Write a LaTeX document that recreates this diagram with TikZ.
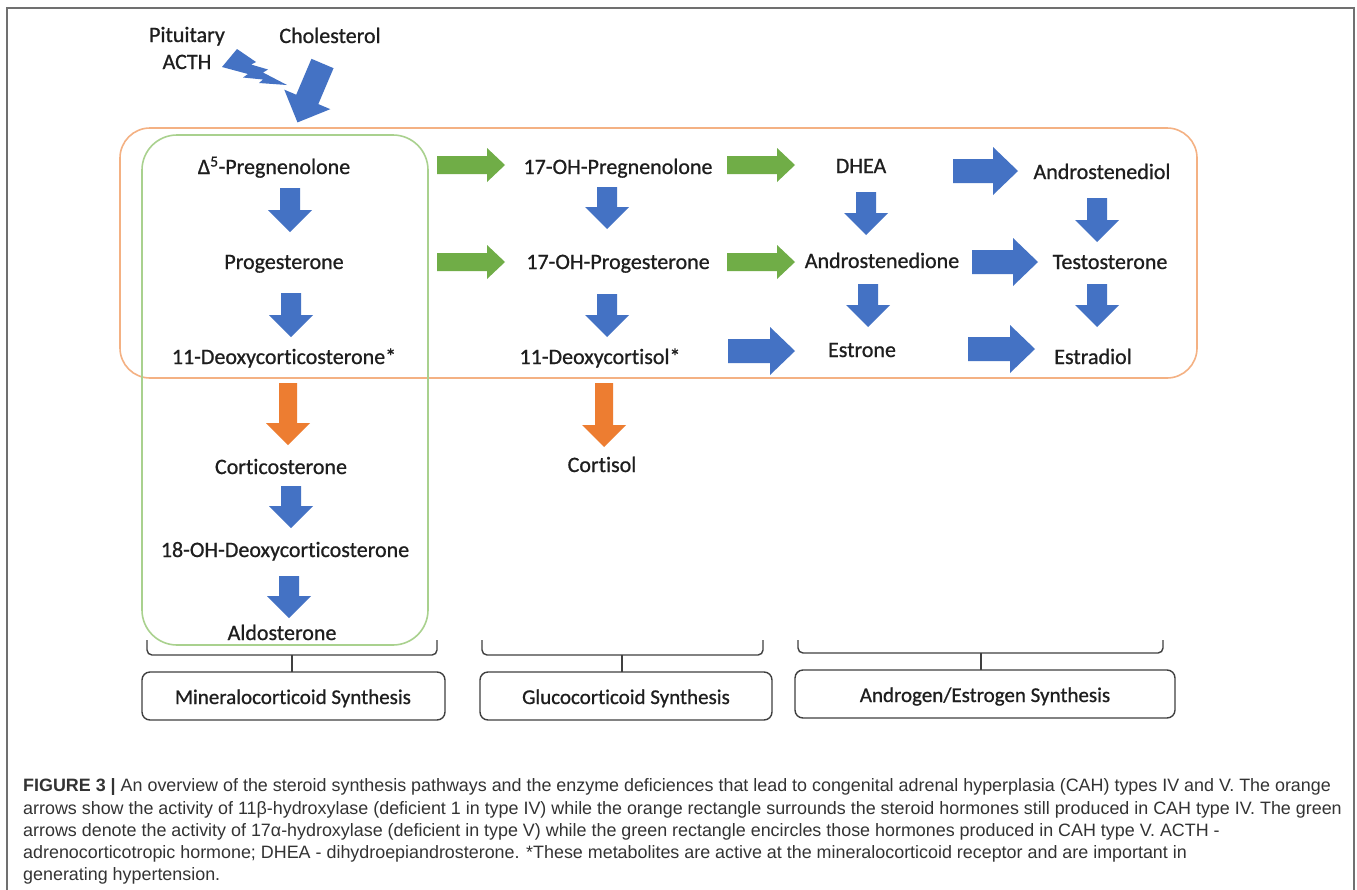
\documentclass[tikz,border=0pt]{standalone}
\usepackage{fontspec}
\setmainfont{Carlito}[Ligatures=NoCommon]
\newfontfamily\heavy{Carlito}[Ligatures=NoCommon, FakeBold=0.8]
\newfontfamily\capfont{Liberation Sans}
\definecolor{oblue}{HTML}{4472C4}
\definecolor{ogreen}{HTML}{70AD47}
\definecolor{oorange}{HTML}{ED7D31}
\definecolor{boxorange}{HTML}{F4B183}
\definecolor{boxgreen}{HTML}{A9D18E}
\definecolor{txt}{HTML}{1E1E1E}
\definecolor{captxt}{HTML}{333333}
\definecolor{framecol}{HTML}{707070}
\definecolor{brkcol}{HTML}{404040}
% block arrow: color, x, y, angle, length, body half, head half, head length
\newcommand{\BA}[8]{\fill[#1, shift={(#2,#3)}, rotate=#4] (0,-#6) -- ({#5-#8},-#6) -- ({#5-#8},-#7) -- (#5,0) -- ({#5-#8},#7) -- ({#5-#8},#6) -- (0,#6) -- cycle;}
\begin{document}
\begin{tikzpicture}[x=1pt,y=-1pt,
  lbl/.style={anchor=base, inner sep=0pt, text=txt, font=\heavy\fontsize{22}{27}\selectfont},
  boxlbl/.style={anchor=base, inner sep=0pt, text=txt, font=\heavy\fontsize{21}{25}\selectfont},
  capline/.style={anchor=base west, inner sep=0pt, text=captxt, font=\capfont\fontsize{17.9}{22}\selectfont},
  brk/.style={draw=brkcol, line width=1.4pt, rounded corners=5pt},
  synbox/.style={draw=brkcol, line width=1.4pt, rounded corners=8pt}]
\useasboundingbox (0,0) rectangle (1357,889);
\fill[white] (0,0) rectangle (1357,889);
% outer frame
\draw[framecol, line width=1.5pt] (7,900) -- (7,8) -- (1354,8) -- (1354,900);
% group rectangles
\draw[boxorange, line width=1.6pt, rounded corners=30pt] (120,128) rectangle (1197,378);
\draw[boxgreen, line width=1.6pt, rounded corners=35pt] (142,135) rectangle (428,645);
% top labels
\node[lbl, align=center] (pit) at (187,69) {Pituitary\\ACTH};
\node[lbl] (chol) at (330,43) {Cholesterol};
% lightning bolt
\fill[oblue] (237,49) -- (256,62) -- (251,64.5) -- (268,69.5) -- (263,72.5) -- (287,85) -- (259,83) -- (263,79.5) -- (243,77.5) -- (248,74) -- (222,67) -- cycle;
% cholesterol arrow
\BA{oblue}{322.5}{63.5}{-113}{64}{12}{25}{25}
% column 1
\node[lbl] (preg) at (274,174) {Δ\textsuperscript{5}-Pregnenolone};
\node[lbl] (prog) at (284,269) {Progesterone};
\node[lbl] (doc) at (284,364) {11-Deoxycorticosterone*};
\node[lbl] (cortico) at (281,474) {Corticosterone};
\node[lbl] (ohdoc) at (285,557) {18-OH-Deoxycorticosterone};
\node[lbl] (aldo) at (282,640) {Aldosterone};
% column 2
\node[lbl] (ohpreg) at (618,174) {17-OH-Pregnenolone};
\node[lbl] (ohprog) at (618,269) {17-OH-Progesterone};
\node[lbl] (dcol) at (600,364) {11-Deoxycortisol*};
\node[lbl] (cortisol) at (602,472) {Cortisol};
% column 3
\node[lbl] (dhea) at (861,173) {DHEA};
\node[lbl] (andione) at (882,268) {Androstenedione};
\node[lbl] (estrone) at (862,357) {Estrone};
% column 4
\node[lbl] (andiol) at (1102,179) {Androstenediol};
\node[lbl] (testo) at (1110,269) {Testosterone};
\node[lbl] (estradiol) at (1093,364) {Estradiol};
% green horizontal arrows
\BA{ogreen}{437}{165}{0}{68}{9}{17}{18}
\BA{ogreen}{437}{262}{0}{68}{9}{17}{18}
\BA{ogreen}{727}{165}{0}{68}{9}{17}{18}
\BA{ogreen}{727}{262}{0}{68}{9}{17}{18}
% blue horizontal arrows
\BA{oblue}{953}{171}{0}{65}{12}{24}{25}
\BA{oblue}{972}{262}{0}{66}{12}{24}{25}
\BA{oblue}{728}{351}{0}{67}{12}{24}{25}
\BA{oblue}{968}{349}{0}{67}{12}{24}{25}
% blue vertical arrows
\BA{oblue}{290}{188}{-90}{44}{10}{22}{22}
\BA{oblue}{291}{293}{-90}{44}{10}{22}{22}
\BA{oblue}{291}{486}{-90}{42}{10}{22}{22}
\BA{oblue}{289}{576}{-90}{42}{10}{22}{22}
\BA{oblue}{607}{187}{-90}{42}{10}{22}{22}
\BA{oblue}{607}{294}{-90}{43}{10}{22}{22}
\BA{oblue}{866}{192}{-90}{43}{10}{22}{22}
\BA{oblue}{868}{284}{-90}{43}{10}{22}{22}
\BA{oblue}{1097}{198}{-90}{44}{10}{22}{22}
\BA{oblue}{1097}{284}{-90}{43}{10}{22}{22}
% orange vertical arrows
\BA{oorange}{288}{383}{-90}{62}{9}{22}{22}
\BA{oorange}{604}{383}{-90}{64}{9}{22}{22}
% brackets
\draw[brk] (147,640) -- (147,655) -- (437,655) -- (437,640);
\draw[brkcol, line width=1.4pt] (292,655) -- (292,672);
\draw[brk] (482,640) -- (482,655) -- (763,655) -- (763,640);
\draw[brkcol, line width=1.4pt] (622,655) -- (622,672);
\draw[brk] (798,640) -- (798,653) -- (1163,653) -- (1163,640);
\draw[brkcol, line width=1.4pt] (981,653) -- (981,670);
% synthesis boxes
\draw[synbox] (142,672) rectangle (445,720);
\node[boxlbl] (mineral) at (293,704) {Mineralocorticoid Synthesis};
\draw[synbox] (480,672) rectangle (772,720);
\node[boxlbl] (gluco) at (626,704) {Glucocorticoid Synthesis};
\draw[synbox] (795,670) rectangle (1175,718);
\node[boxlbl] (andro) at (985,702) {Androgen/Estrogen Synthesis};
% caption
\node[capline] (cap1) at (23,791) {\textbf{FIGURE 3 |} An overview of the steroid synthesis pathways and the enzyme deficiences that lead to congenital adrenal hyperplasia (CAH) types IV and V. The orange};
\node[capline] (cap2) at (23,814) {arrows show the activity of 11β-hydroxylase (deficient 1 in type IV) while the orange rectangle surrounds the steroid hormones still produced in CAH type IV. The green};
\node[capline] (cap3) at (23,836) {arrows denote the activity of 17α-hydroxylase (deficient in type V) while the green rectangle encircles those hormones produced in CAH type V. ACTH -};
\node[capline] (cap4) at (23,858) {adrenocorticotropic hormone; DHEA - dihydroepiandrosterone. *These metabolites are active at the mineralocorticoid receptor and are important in};
\node[capline] (cap5) at (23,880) {generating hypertension.};
\end{tikzpicture}
\end{document}
